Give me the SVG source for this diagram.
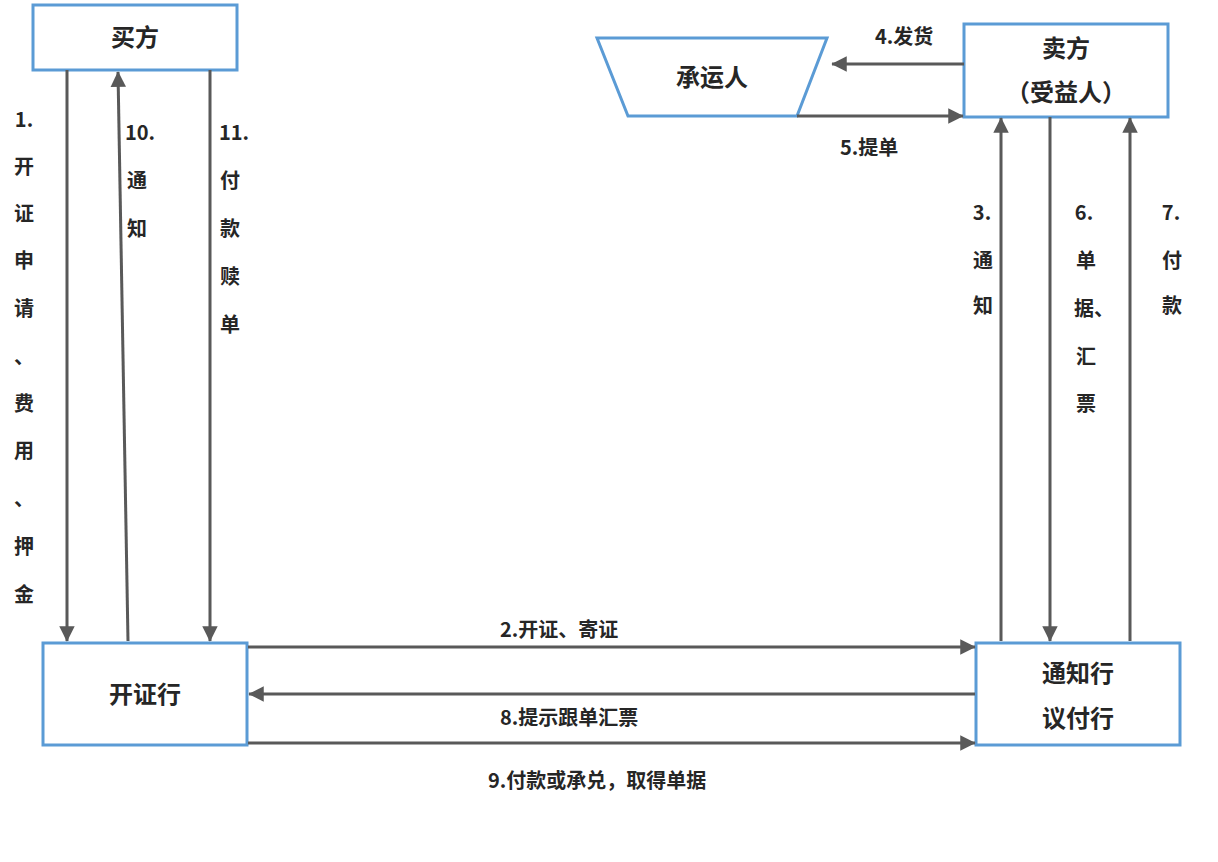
<svg xmlns="http://www.w3.org/2000/svg" width="1218" height="862" viewBox="0 0 1218 862">
<defs>
<style>
.box{fill:#fff;stroke:#5b9bd5;stroke-width:3}
.ln{stroke:#595959;stroke-width:3;fill:none;marker-end:url(#ah)}
text{font-family:"Noto Sans CJK SC","Noto Sans",sans-serif;font-weight:bold;fill:#262626}
.t{font-size:24px;text-anchor:middle}
.l{font-size:20px}
.v{font-size:20px;text-anchor:middle}
</style>
<marker id="ah" viewBox="0 0 10 10" refX="9" refY="5" markerWidth="7" markerHeight="7" orient="auto" markerUnits="userSpaceOnUse" style="overflow:visible">
<path d="M0,0 L10,5 L0,10 z" fill="#595959" transform="scale(2.2) translate(-5.5,-2.7)"/>
</marker>
</defs>
<rect width="1218" height="862" fill="#fff"/>
<g id="buyer"><rect class="box" x="33" y="5" width="204" height="65"/><text class="t" x="135" y="46">买方</text></g>
<g id="carrier"><polygon class="box" points="597,38 827,38 797,116 628,116"/><text class="t" x="712" y="86">承运人</text></g>
<g id="seller"><rect class="box" x="964" y="24" width="204" height="93"/><text class="t" x="1066" y="57">卖方</text><text class="t" x="1066" y="101">（受益人）</text></g>
<g id="issuing"><rect class="box" x="43" y="643" width="204" height="102"/><text class="t" x="145" y="703">开证行</text></g>
<g id="advising"><rect class="box" x="976" y="643" width="204" height="102"/><text class="t" x="1078" y="682">通知行</text><text class="t" x="1078" y="727">议付行</text></g>
<g id="connectors">
<line class="ln" x1="67" y1="70" x2="67" y2="641"/>
<line class="ln" x1="128" y1="641" x2="118" y2="72"/>
<line class="ln" x1="210" y1="70" x2="210" y2="641"/>
<line class="ln" x1="1001" y1="641" x2="1001" y2="118"/>
<line class="ln" x1="1050" y1="117" x2="1050" y2="641"/>
<line class="ln" x1="1130" y1="641" x2="1130" y2="118"/>
<line class="ln" x1="964" y1="64" x2="832" y2="64"/>
<line class="ln" x1="797" y1="116" x2="963" y2="116"/>
<line class="ln" x1="248" y1="647" x2="975" y2="647"/>
<line class="ln" x1="975" y1="694" x2="249" y2="694"/>
<line class="ln" x1="248" y1="743" x2="975" y2="743"/>
</g>
<g id="labels">
<text class="l" x="875" y="44">4.发货</text>
<text class="l" x="840" y="155">5.提单</text>
<text class="l" x="500" y="637">2.开证、寄证</text>
<text class="l" x="500" y="725">8.提示跟单汇票</text>
<text class="l" x="488" y="788">9.付款或承兑，取得单据</text>
<g class="v">
<text class="v" x="24" y="127">1.</text><text class="v" x="24" y="174">开</text><text class="v" x="24" y="221">证</text><text class="v" x="24" y="268">申</text><text class="v" x="24" y="316">请</text><text class="v" x="24" y="364">、</text><text class="v" x="24" y="411">费</text><text class="v" x="24" y="458">用</text><text class="v" x="24" y="506">、</text><text class="v" x="24" y="554">押</text><text class="v" x="24" y="602">金</text>
<text class="v" x="140" y="140">10.</text><text class="v" x="137" y="188">通</text><text class="v" x="137" y="236">知</text>
<text class="v" x="234" y="140">11.</text><text class="v" x="230" y="188">付</text><text class="v" x="230" y="236">款</text><text class="v" x="230" y="284">赎</text><text class="v" x="230" y="332">单</text>
<text class="v" x="982" y="220">3.</text><text class="v" x="983" y="268">通</text><text class="v" x="983" y="313">知</text>
<text class="v" x="1084" y="220">6.</text><text class="v" x="1086" y="268">单</text><text class="v" x="1094" y="316">据、</text><text class="v" x="1086" y="364">汇</text><text class="v" x="1086" y="411">票</text>
<text class="v" x="1171" y="220">7.</text><text class="v" x="1172" y="268">付</text><text class="v" x="1172" y="313">款</text>
</g>
</g>
</svg>
